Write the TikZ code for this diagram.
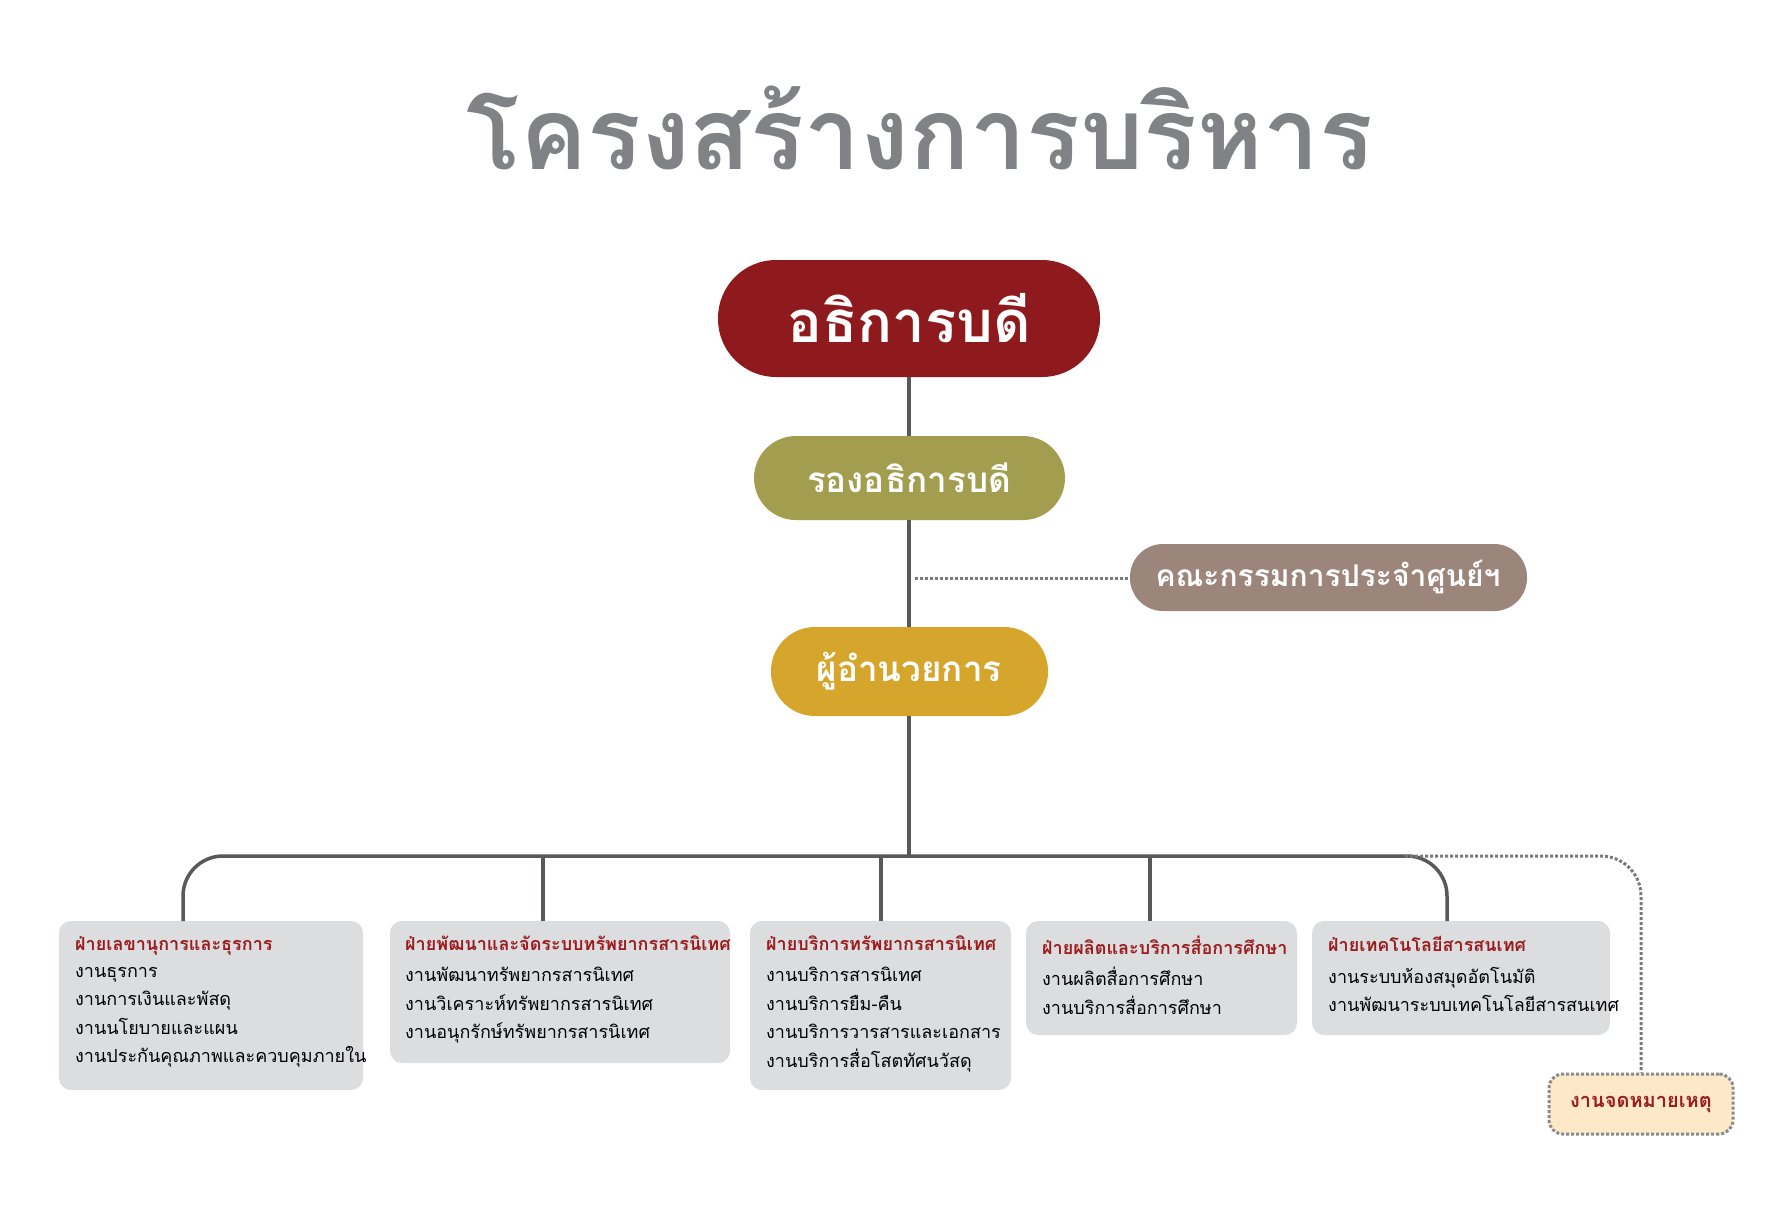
\documentclass[tikz,border=0pt]{standalone}
\usepackage{fontspec}
\newfontfamily\thai[Script=Thai]{Loma}
\definecolor{dred}{HTML}{8E1A1E}
\definecolor{olive}{HTML}{A39E4F}
\definecolor{taupe}{HTML}{9C857A}
\definecolor{gold}{HTML}{D6A52B}
\definecolor{lgray}{HTML}{DCDDDE}
\definecolor{tgray}{HTML}{808285}
\definecolor{lcol}{HTML}{58595B}
\definecolor{cream}{HTML}{FDE9C8}
\definecolor{hred}{HTML}{9B1C1F}
\tikzset{
 pill/.style={rounded corners=#1, text=white, font=\thai\bfseries},
 unit/.style={fill=lgray, rounded corners=12},
 conn/.style={draw=lcol, line width=3.5pt},
 dots/.style={draw=lcol!80, line width=3pt, dotted},
 head/.style={anchor=north west, text=hred, font=\thai\fontsize{18}{22}\selectfont\bfseries, inner sep=0},
 items/.style={anchor=north west, align=left, font=\thai\fontsize{18}{28.5}\selectfont, inner sep=0},
}
\begin{document}
\begin{tikzpicture}[x=1pt,y=-1pt]
\useasboundingbox (0,0) rectangle (1782,1227);
\fill[white] (0,0) rectangle (1782,1227);
\node[text=tgray, font=\thai\bfseries\fontsize{100}{110}\selectfont] (title) at (920,128) {โครงสร้างการบริหาร};
% main boxes
\fill[dred, rounded corners=58] (718,260) rectangle (1100,377);
\node[text=white,font=\thai\bfseries\fontsize{58}{60}\selectfont] (pres) at (909,318) {อธิการบดี};
\fill[olive, rounded corners=42] (754,436) rectangle (1065,520);
\node[text=white,font=\thai\bfseries\fontsize{35}{40}\selectfont] (vp) at (909,478) {รองอธิการบดี};
\fill[taupe, rounded corners=33] (1130,544) rectangle (1527,611);
\node[text=white,font=\thai\bfseries\fontsize{30}{34}\selectfont] (comm) at (1328,577) {คณะกรรมการประจำศูนย์ฯ};
\fill[gold, rounded corners=44] (771,627) rectangle (1048,716);
\node[text=white,font=\thai\bfseries\fontsize{35}{40}\selectfont] (dir) at (909,671) {ผู้อำนวยการ};
\coordinate (presb) at (909,377);
\coordinate (vpt) at (909,436);
\coordinate (vpb) at (909,520);
\coordinate (dirt) at (909,627);
\coordinate (dirb) at (909,716);
\coordinate (jn) at (909,856);
\coordinate (side) at (915,578);
\coordinate (comml) at (1130,578);
\draw[conn] (presb) -- (vpt);
\draw[conn] (vpb) -- (dirt);
\draw[conn] (dirb) -- (jn);
\draw[dots] (side) -- (comml);
% bottom boxes
\fill[unit] (59,921) rectangle (363,1090);
\fill[unit] (390,921) rectangle (730,1063);
\fill[unit] (750,921) rectangle (1011,1090);
\fill[unit] (1026,921) rectangle (1297,1035);
\fill[unit] (1312,921) rectangle (1610,1035);
\coordinate (u1) at (183,921);
\coordinate (u2) at (543,921);
\coordinate (u3) at (881,921);
\coordinate (u4) at (1150,921);
\coordinate (u5) at (1447,921);
\draw[conn, rounded corners=40] (u1) |- (jn) -| (u5);
\draw[conn] (u2) -- (u2 |- jn);
\draw[conn] (u3) -- (u3 |- jn);
\draw[conn] (u4) -- (u4 |- jn);
\node[head] (h1) at (75,936) {ฝ่ายเลขานุการและธุรการ};
\node[items] (i1) at (75,967) {งานธุรการ\\งานการเงินและพัสดุ\\งานนโยบายและแผน\\งานประกันคุณภาพและควบคุมภายใน};
\node[head] (h2) at (405,936) {ฝ่ายพัฒนาและจัดระบบทรัพยากรสารนิเทศ};
\node[items] (i2) at (405,967) {งานพัฒนาทรัพยากรสารนิเทศ\\งานวิเคราะห์ทรัพยากรสารนิเทศ\\งานอนุกรักษ์ทรัพยากรสารนิเทศ};
\node[head] (h3) at (766,936) {ฝ่ายบริการทรัพยากรสารนิเทศ};
\node[items] (i3) at (766,967) {งานบริการสารนิเทศ\\งานบริการยืม-คืน\\งานบริการวารสารและเอกสาร\\งานบริการสื่อโสตทัศนวัสดุ};
\node[head] (h4) at (1042,936) {ฝ่ายผลิตและบริการสื่อการศึกษา};
\node[items] (i4) at (1042,967) {งานผลิตสื่อการศึกษา\\งานบริการสื่อการศึกษา};
\node[head] (h5) at (1328,936) {ฝ่ายเทคโนโลยีสารสนเทศ};
\node[items] (i5) at (1328,967) {งานระบบห้องสมุดอัตโนมัติ\\งานพัฒนาระบบเทคโนโลยีสารสนเทศ};
% note
\node[draw=lcol!70, line width=3pt, dotted, fill=cream, rounded corners=14, minimum width=184pt, minimum height=60pt, text=hred, font=\thai\bfseries\fontsize{20}{24}\selectfont] (note) at (1641,1104) {งานจดหมายเหตุ};
\coordinate (nb) at (1405,856);
\draw[dots, rounded corners=40] (nb) -| (note.north);
\end{tikzpicture}
\end{document}
